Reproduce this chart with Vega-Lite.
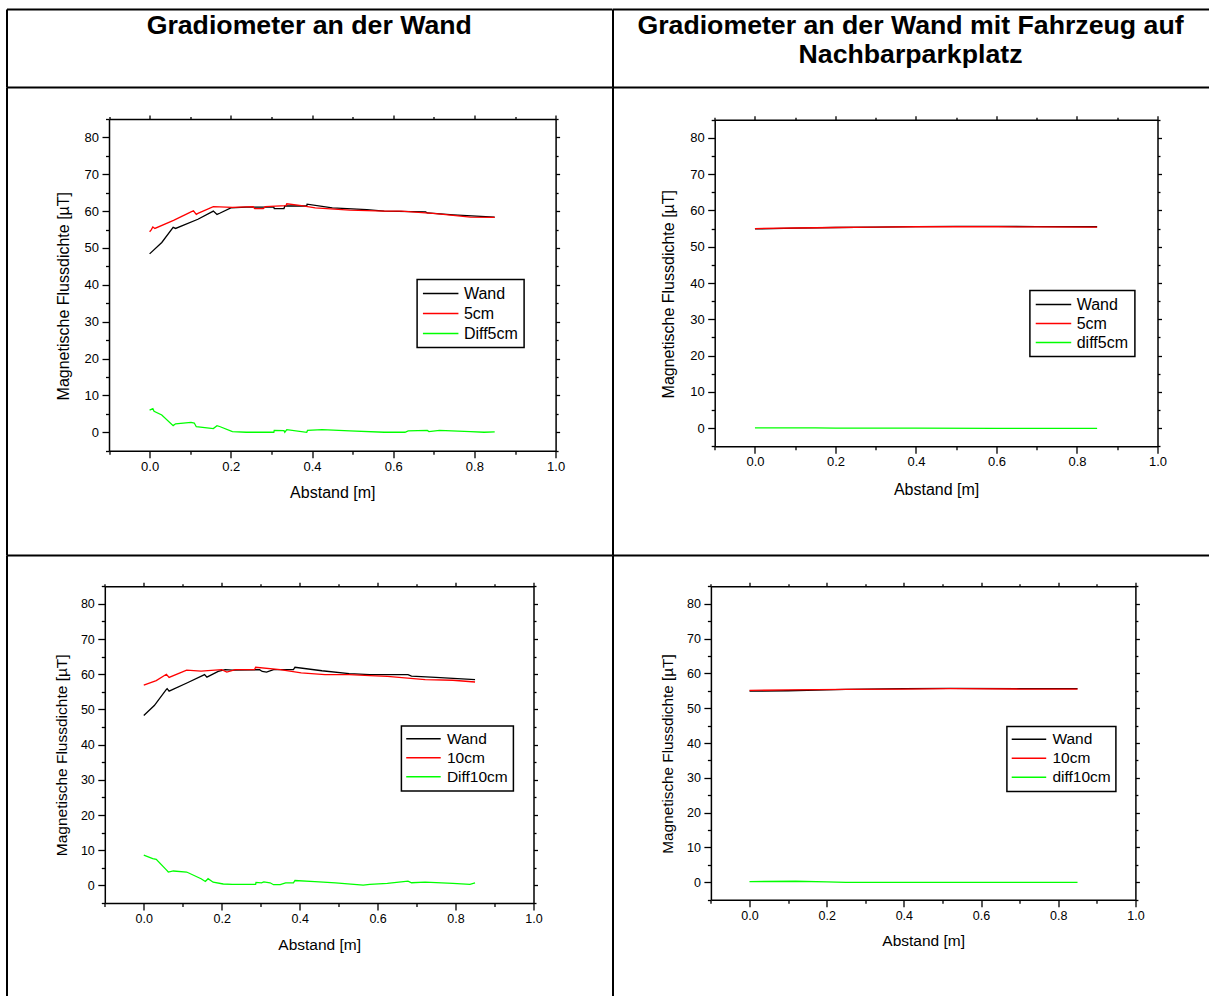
{
  "$schema": "https://vega.github.io/schema/vega-lite/v6.json",
  "background": "white",
  "padding": {"left": 6.5, "top": 9, "right": 0, "bottom": 0},
  "config": {"view": {"stroke": null}, "font": "Liberation Sans"},
  "datasets": {
    "tl": [
      {"s": "Wand", "x": 0, "y": 48.4}, {"s": "Wand", "x": 0.03, "y": 51.5}, {"s": "Wand", "x": 0.058, "y": 55.6}, {"s": "Wand", "x": 0.064, "y": 55.3},
      {"s": "Wand", "x": 0.119, "y": 57.8}, {"s": "Wand", "x": 0.157, "y": 60.0}, {"s": "Wand", "x": 0.166, "y": 59.1}, {"s": "Wand", "x": 0.174, "y": 59.5},
      {"s": "Wand", "x": 0.2, "y": 60.9}, {"s": "Wand", "x": 0.238, "y": 61.1}, {"s": "Wand", "x": 0.306, "y": 61.1}, {"s": "Wand", "x": 0.307, "y": 60.7},
      {"s": "Wand", "x": 0.331, "y": 60.7}, {"s": "Wand", "x": 0.333, "y": 61.4}, {"s": "Wand", "x": 0.387, "y": 61.4}, {"s": "Wand", "x": 0.388, "y": 61.9},
      {"s": "Wand", "x": 0.45, "y": 60.9}, {"s": "Wand", "x": 0.535, "y": 60.4}, {"s": "Wand", "x": 0.578, "y": 60.0}, {"s": "Wand", "x": 0.68, "y": 59.8},
      {"s": "Wand", "x": 0.684, "y": 59.5}, {"s": "Wand", "x": 0.748, "y": 59.0}, {"s": "Wand", "x": 0.85, "y": 58.4},
      {"s": "5cm", "x": 0, "y": 54.4}, {"s": "5cm", "x": 0.004, "y": 54.9}, {"s": "5cm", "x": 0.008, "y": 55.7}, {"s": "5cm", "x": 0.013, "y": 55.3},
      {"s": "5cm", "x": 0.059, "y": 57.5}, {"s": "5cm", "x": 0.102, "y": 59.8}, {"s": "5cm", "x": 0.108, "y": 60.1}, {"s": "5cm", "x": 0.115, "y": 59.1},
      {"s": "5cm", "x": 0.119, "y": 59.4}, {"s": "5cm", "x": 0.157, "y": 61.2}, {"s": "5cm", "x": 0.204, "y": 61.0}, {"s": "5cm", "x": 0.255, "y": 61.2},
      {"s": "5cm", "x": 0.259, "y": 60.7}, {"s": "5cm", "x": 0.28, "y": 60.7}, {"s": "5cm", "x": 0.285, "y": 61.2}, {"s": "5cm", "x": 0.336, "y": 61.5},
      {"s": "5cm", "x": 0.338, "y": 62.0}, {"s": "5cm", "x": 0.374, "y": 61.5}, {"s": "5cm", "x": 0.408, "y": 60.9}, {"s": "5cm", "x": 0.493, "y": 60.3},
      {"s": "5cm", "x": 0.578, "y": 60.0}, {"s": "5cm", "x": 0.62, "y": 60.0}, {"s": "5cm", "x": 0.705, "y": 59.3}, {"s": "5cm", "x": 0.79, "y": 58.4},
      {"s": "5cm", "x": 0.85, "y": 58.3},
      {"s": "Diff5cm", "x": 0, "y": 6.0}, {"s": "Diff5cm", "x": 0.008, "y": 6.4}, {"s": "Diff5cm", "x": 0.011, "y": 5.7}, {"s": "Diff5cm", "x": 0.03, "y": 4.7},
      {"s": "Diff5cm", "x": 0.058, "y": 1.8}, {"s": "Diff5cm", "x": 0.064, "y": 2.3}, {"s": "Diff5cm", "x": 0.102, "y": 2.7}, {"s": "Diff5cm", "x": 0.11, "y": 2.5},
      {"s": "Diff5cm", "x": 0.115, "y": 1.5}, {"s": "Diff5cm", "x": 0.157, "y": 1.0}, {"s": "Diff5cm", "x": 0.166, "y": 1.8}, {"s": "Diff5cm", "x": 0.174, "y": 1.5},
      {"s": "Diff5cm", "x": 0.204, "y": 0.2}, {"s": "Diff5cm", "x": 0.238, "y": 0.0}, {"s": "Diff5cm", "x": 0.306, "y": 0.0}, {"s": "Diff5cm", "x": 0.307, "y": 0.5},
      {"s": "Diff5cm", "x": 0.331, "y": 0.45}, {"s": "Diff5cm", "x": 0.333, "y": 0.0}, {"s": "Diff5cm", "x": 0.338, "y": 0.7}, {"s": "Diff5cm", "x": 0.387, "y": 0.0},
      {"s": "Diff5cm", "x": 0.389, "y": 0.5}, {"s": "Diff5cm", "x": 0.425, "y": 0.7}, {"s": "Diff5cm", "x": 0.493, "y": 0.4}, {"s": "Diff5cm", "x": 0.578, "y": 0.0},
      {"s": "Diff5cm", "x": 0.629, "y": 0.0}, {"s": "Diff5cm", "x": 0.637, "y": 0.4}, {"s": "Diff5cm", "x": 0.684, "y": 0.5}, {"s": "Diff5cm", "x": 0.688, "y": 0.2},
      {"s": "Diff5cm", "x": 0.714, "y": 0.5}, {"s": "Diff5cm", "x": 0.79, "y": 0.2}, {"s": "Diff5cm", "x": 0.824, "y": 0.0}, {"s": "Diff5cm", "x": 0.85, "y": 0.1}
    ],
    "tr": [
      {"s": "Wand", "x": 0, "y": 54.9}, {"s": "Wand", "x": 0.1, "y": 55.1}, {"s": "Wand", "x": 0.2, "y": 55.3}, {"s": "Wand", "x": 0.3, "y": 55.4},
      {"s": "Wand", "x": 0.4, "y": 55.55}, {"s": "Wand", "x": 0.5, "y": 55.6}, {"s": "Wand", "x": 0.6, "y": 55.6}, {"s": "Wand", "x": 0.7, "y": 55.55},
      {"s": "Wand", "x": 0.85, "y": 55.5},
      {"s": "5cm", "x": 0, "y": 55.0}, {"s": "5cm", "x": 0.1, "y": 55.15}, {"s": "5cm", "x": 0.2, "y": 55.3}, {"s": "5cm", "x": 0.3, "y": 55.4},
      {"s": "5cm", "x": 0.4, "y": 55.5}, {"s": "5cm", "x": 0.5, "y": 55.5}, {"s": "5cm", "x": 0.6, "y": 55.5}, {"s": "5cm", "x": 0.7, "y": 55.45},
      {"s": "5cm", "x": 0.85, "y": 55.4},
      {"s": "diff5cm", "x": 0, "y": 0.1}, {"s": "diff5cm", "x": 0.1, "y": 0.05}, {"s": "diff5cm", "x": 0.15, "y": 0.1}, {"s": "diff5cm", "x": 0.2, "y": 0.0},
      {"s": "diff5cm", "x": 0.4, "y": 0.0}, {"s": "diff5cm", "x": 0.6, "y": -0.05}, {"s": "diff5cm", "x": 0.85, "y": -0.05}
    ],
    "bl": [
      {"s": "Wand", "x": 0, "y": 48.3}, {"s": "Wand", "x": 0.027, "y": 51.1}, {"s": "Wand", "x": 0.058, "y": 55.7}, {"s": "Wand", "x": 0.06, "y": 55.9},
      {"s": "Wand", "x": 0.065, "y": 55.2}, {"s": "Wand", "x": 0.112, "y": 57.6}, {"s": "Wand", "x": 0.156, "y": 59.9}, {"s": "Wand", "x": 0.162, "y": 59.2},
      {"s": "Wand", "x": 0.191, "y": 60.8}, {"s": "Wand", "x": 0.209, "y": 61.3}, {"s": "Wand", "x": 0.227, "y": 61.2}, {"s": "Wand", "x": 0.297, "y": 61.3},
      {"s": "Wand", "x": 0.304, "y": 60.8}, {"s": "Wand", "x": 0.315, "y": 60.6}, {"s": "Wand", "x": 0.333, "y": 61.3}, {"s": "Wand", "x": 0.384, "y": 61.3},
      {"s": "Wand", "x": 0.388, "y": 62.0}, {"s": "Wand", "x": 0.457, "y": 61.0}, {"s": "Wand", "x": 0.527, "y": 60.2}, {"s": "Wand", "x": 0.58, "y": 59.9},
      {"s": "Wand", "x": 0.678, "y": 59.9}, {"s": "Wand", "x": 0.687, "y": 59.5}, {"s": "Wand", "x": 0.749, "y": 59.1}, {"s": "Wand", "x": 0.85, "y": 58.5},
      {"s": "10cm", "x": 0, "y": 56.9}, {"s": "10cm", "x": 0.032, "y": 58.2}, {"s": "10cm", "x": 0.058, "y": 60.0}, {"s": "10cm", "x": 0.065, "y": 59.1},
      {"s": "10cm", "x": 0.11, "y": 61.2}, {"s": "10cm", "x": 0.147, "y": 60.9}, {"s": "10cm", "x": 0.2, "y": 61.3}, {"s": "10cm", "x": 0.213, "y": 60.6},
      {"s": "10cm", "x": 0.235, "y": 61.3}, {"s": "10cm", "x": 0.284, "y": 61.3}, {"s": "10cm", "x": 0.287, "y": 62.0}, {"s": "10cm", "x": 0.35, "y": 61.3},
      {"s": "10cm", "x": 0.404, "y": 60.4}, {"s": "10cm", "x": 0.465, "y": 59.9}, {"s": "10cm", "x": 0.527, "y": 59.9}, {"s": "10cm", "x": 0.58, "y": 59.6},
      {"s": "10cm", "x": 0.625, "y": 59.4}, {"s": "10cm", "x": 0.722, "y": 58.5}, {"s": "10cm", "x": 0.793, "y": 58.3}, {"s": "10cm", "x": 0.85, "y": 57.8},
      {"s": "Diff10cm", "x": 0, "y": 8.6}, {"s": "Diff10cm", "x": 0.023, "y": 7.6}, {"s": "Diff10cm", "x": 0.032, "y": 7.4}, {"s": "Diff10cm", "x": 0.058, "y": 4.4},
      {"s": "Diff10cm", "x": 0.063, "y": 3.8}, {"s": "Diff10cm", "x": 0.076, "y": 4.1}, {"s": "Diff10cm", "x": 0.11, "y": 3.8}, {"s": "Diff10cm", "x": 0.147, "y": 1.9},
      {"s": "Diff10cm", "x": 0.158, "y": 1.1}, {"s": "Diff10cm", "x": 0.165, "y": 1.9}, {"s": "Diff10cm", "x": 0.178, "y": 0.9}, {"s": "Diff10cm", "x": 0.204, "y": 0.4},
      {"s": "Diff10cm", "x": 0.227, "y": 0.3}, {"s": "Diff10cm", "x": 0.287, "y": 0.3}, {"s": "Diff10cm", "x": 0.288, "y": 0.85}, {"s": "Diff10cm", "x": 0.302, "y": 0.7},
      {"s": "Diff10cm", "x": 0.308, "y": 1.0}, {"s": "Diff10cm", "x": 0.324, "y": 0.75}, {"s": "Diff10cm", "x": 0.333, "y": 0.2}, {"s": "Diff10cm", "x": 0.35, "y": 0.2},
      {"s": "Diff10cm", "x": 0.364, "y": 0.7}, {"s": "Diff10cm", "x": 0.384, "y": 0.75}, {"s": "Diff10cm", "x": 0.388, "y": 1.4}, {"s": "Diff10cm", "x": 0.439, "y": 1.1},
      {"s": "Diff10cm", "x": 0.492, "y": 0.7}, {"s": "Diff10cm", "x": 0.563, "y": 0.1}, {"s": "Diff10cm", "x": 0.58, "y": 0.3}, {"s": "Diff10cm", "x": 0.625, "y": 0.6},
      {"s": "Diff10cm", "x": 0.678, "y": 1.2}, {"s": "Diff10cm", "x": 0.687, "y": 0.75}, {"s": "Diff10cm", "x": 0.722, "y": 0.95}, {"s": "Diff10cm", "x": 0.793, "y": 0.6},
      {"s": "Diff10cm", "x": 0.837, "y": 0.3}, {"s": "Diff10cm", "x": 0.85, "y": 0.7}
    ],
    "br": [
      {"s": "Wand", "x": 0, "y": 54.9}, {"s": "Wand", "x": 0.1, "y": 55.0}, {"s": "Wand", "x": 0.25, "y": 55.4}, {"s": "Wand", "x": 0.4, "y": 55.6},
      {"s": "Wand", "x": 0.52, "y": 55.7}, {"s": "Wand", "x": 0.7, "y": 55.6}, {"s": "Wand", "x": 0.85, "y": 55.6},
      {"s": "10cm", "x": 0, "y": 55.1}, {"s": "10cm", "x": 0.1, "y": 55.25}, {"s": "10cm", "x": 0.25, "y": 55.4}, {"s": "10cm", "x": 0.4, "y": 55.5},
      {"s": "10cm", "x": 0.52, "y": 55.6}, {"s": "10cm", "x": 0.7, "y": 55.5}, {"s": "10cm", "x": 0.85, "y": 55.5},
      {"s": "diff10cm", "x": 0, "y": 0.2}, {"s": "diff10cm", "x": 0.12, "y": 0.3}, {"s": "diff10cm", "x": 0.2, "y": 0.1}, {"s": "diff10cm", "x": 0.25, "y": -0.05},
      {"s": "diff10cm", "x": 0.5, "y": 0.0}, {"s": "diff10cm", "x": 0.6, "y": -0.05}, {"s": "diff10cm", "x": 0.85, "y": 0.0}
    ]
  },
  "columns": 2,
  "spacing": 0,
  "bounds": "flush",
  "align": "each",
  "resolve": {"scale": {"color": "independent"}, "legend": {"color": "independent"}},
  "concat": [
    {
      "width": 605.5, "height": 78,
      "data": {"values": [{"t": "Gradiometer an der Wand"}]},
      "mark": {"type": "text", "font": "Liberation Sans", "fontSize": 26.7, "fontWeight": "bold", "baseline": "top", "lineBreak": "\n", "lineHeight": 29, "color": "black"},
      "encoding": {
        "text": {"field": "t"},
        "x": {"field": "t", "type": "nominal", "axis": {"orient": "top", "domainColor": "black", "domainWidth": 2, "ticks": false, "labels": false, "grid": false, "title": null}},
        "y": {"field": "t", "type": "nominal", "scale": {"padding": 0, "align": 0.055}, "axis": {"orient": "left", "domainColor": "black", "domainWidth": 2, "ticks": false, "labels": false, "grid": false, "title": null}}
      }
    },
    {
      "width": 596, "height": 78,
      "data": {"values": [{"t": "Gradiometer an der Wand mit Fahrzeug auf\nNachbarparkplatz"}]},
      "mark": {"type": "text", "font": "Liberation Sans", "fontSize": 26.7, "fontWeight": "bold", "baseline": "top", "lineBreak": "\n", "lineHeight": 29, "color": "black"},
      "encoding": {
        "text": {"field": "t"},
        "x": {"field": "t", "type": "nominal", "axis": {"orient": "top", "domainColor": "black", "domainWidth": 2, "ticks": false, "labels": false, "grid": false, "title": null}},
        "y": {"field": "t", "type": "nominal", "scale": {"padding": 0, "align": 0.055}, "axis": {"orient": "left", "domainColor": "black", "domainWidth": 2, "ticks": false, "labels": false, "grid": false, "title": null}}
      }
    },
    {
      "width": 605.5, "height": 468,
      "data": {"name": "tl"},
      "resolve": {"scale": {"x": "independent", "y": "independent"}, "axis": {"x": "independent", "y": "independent"}},
      "layer": [
        {
          "mark": {"type": "point", "opacity": 0, "size": 0},
          "encoding": {
            "x": {"field": "x", "type": "quantitative", "axis": {"orient": "top", "domainColor": "black", "domainWidth": 2, "ticks": false, "labels": false, "grid": false, "title": null}},
            "y": {"field": "y", "type": "quantitative", "axis": {"orient": "left", "domainColor": "black", "domainWidth": 2, "ticks": false, "labels": false, "grid": false, "title": null}}
          }
        },
        {
          "mark": {"type": "line", "strokeWidth": 1.3, "clip": false},
          "encoding": {
            "x": {"field": "x", "type": "quantitative",
              "scale": {"domain": [-0.1, 1.0], "range": [102.5, 549.1], "nice": false, "zero": false},
              "axis": {"orient": "bottom", "offset": -104.3, "values": [-0.1, 0, 0.1, 0.2, 0.3, 0.4, 0.5, 0.6, 0.7, 0.8, 0.9, 1.0],
                "labelExpr": "abs(round(datum.value * 10)) % 2 == 0 ? format(datum.value, '.1f') : ''",
                "tickSize": {"condition": {"test": "abs(round(datum.value * 10)) % 2 == 0", "value": 7}, "value": 3.5},
                "labelPadding": 2.5, "labelFont": "Liberation Sans", "labelFontSize": 13, "labelColor": "black", "labelFlush": false, "labelOverlap": false,
                "tickColor": "black", "tickWidth": 1.3, "domainColor": "black", "domainWidth": 1.5, "grid": false,
                "title": "Abstand [m]", "titleFont": "Liberation Sans", "titleFontSize": 16, "titleFontWeight": "normal", "titleColor": "black", "titleY": 42, "titleBaseline": "middle"}},
            "y": {"field": "y", "type": "quantitative",
              "scale": {"domain": [-5, 85], "range": [363.7, 32], "nice": false, "zero": false},
              "axis": {"orient": "left", "offset": -102.5, "values": [-5, 0, 5, 10, 15, 20, 25, 30, 35, 40, 45, 50, 55, 60, 65, 70, 75, 80, 85],
                "labelExpr": "datum.value % 10 == 0 && datum.value >= 0 && datum.value <= 80 ? format(datum.value, 'd') : ''",
                "tickSize": {"condition": {"test": "datum.value % 10 == 0", "value": 7}, "value": 3.5},
                "labelPadding": 3.5, "labelFont": "Liberation Sans", "labelFontSize": 13, "labelColor": "black", "labelFlush": false, "labelOverlap": false,
                "tickColor": "black", "tickWidth": 1.3, "domainColor": "black", "domainWidth": 1.5, "grid": false,
                "title": "Magnetische Flussdichte [µT]", "titleFont": "Liberation Sans", "titleFontSize": 16, "titleFontWeight": "normal", "titleColor": "black",
                "titleX": -46, "titleY": 208.7, "titleAngle": -90, "titleBaseline": "middle", "titleAlign": "center"}},
            "color": {"field": "s", "type": "nominal",
              "scale": {"domain": ["Wand", "5cm", "Diff5cm"], "range": ["#000000", "#ff0000", "#00ff00"]},
              "legend": {"orient": "none", "legendX": 410.6, "legendY": 192.5, "title": null, "direction": "vertical",
                "symbolType": "M-2.3,0H7.7", "symbolSize": 50.4, "symbolStrokeWidth": 1.5, "labelOffset": 24.8,
                "labelFont": "Liberation Sans", "labelFontSize": 16, "labelColor": "black", "labelLimit": 200,
                "padding": 6, "rowPadding": 4, "strokeColor": "black",
                "encode": {"legend": {"update": {"strokeWidth": {"value": 1.5}}}}}}
          }
        },
        {
          "mark": {"type": "point", "opacity": 0, "size": 0},
          "encoding": {
            "x": {"field": "x", "type": "quantitative",
              "scale": {"domain": [-0.1, 1.0], "range": [102.5, 549.1], "nice": false, "zero": false},
              "axis": {"orient": "top", "offset": -32, "values": [-0.1, 0, 0.1, 0.2, 0.3, 0.4, 0.5, 0.6, 0.7, 0.8, 0.9, 1.0], "labels": false, "title": null, "grid": false,
                "tickSize": {"condition": {"test": "abs(round(datum.value * 10)) % 2 == 0", "value": 4}, "value": 2.5},
                "tickColor": "black", "tickWidth": 1.3, "domainColor": "black", "domainWidth": 1.5}},
            "y": {"field": "y", "type": "quantitative",
              "scale": {"domain": [-5, 85], "range": [363.7, 32], "nice": false, "zero": false},
              "axis": {"orient": "right", "offset": -56.4, "values": [-5, 0, 5, 10, 15, 20, 25, 30, 35, 40, 45, 50, 55, 60, 65, 70, 75, 80, 85], "labels": false, "title": null, "grid": false,
                "tickSize": {"condition": {"test": "datum.value % 10 == 0", "value": 4}, "value": 2.5},
                "tickColor": "black", "tickWidth": 1.3, "domainColor": "black", "domainWidth": 1.5}}
          }
        }
      ]
    },
    {
      "width": 596, "height": 468,
      "data": {"name": "tr"},
      "resolve": {"scale": {"x": "independent", "y": "independent"}, "axis": {"x": "independent", "y": "independent"}},
      "layer": [
        {
          "mark": {"type": "point", "opacity": 0, "size": 0},
          "encoding": {
            "x": {"field": "x", "type": "quantitative", "axis": {"orient": "top", "domainColor": "black", "domainWidth": 2, "ticks": false, "labels": false, "grid": false, "title": null}},
            "y": {"field": "y", "type": "quantitative", "axis": {"orient": "left", "domainColor": "black", "domainWidth": 2, "ticks": false, "labels": false, "grid": false, "title": null}}
          }
        },
        {
          "mark": {"type": "line", "strokeWidth": 1.3, "clip": false},
          "encoding": {
            "x": {"field": "x", "type": "quantitative",
              "scale": {"domain": [-0.1, 1.0], "range": [102.2, 545], "nice": false, "zero": false},
              "axis": {"orient": "bottom", "offset": -108.7, "values": [-0.1, 0, 0.1, 0.2, 0.3, 0.4, 0.5, 0.6, 0.7, 0.8, 0.9, 1.0],
                "labelExpr": "abs(round(datum.value * 10)) % 2 == 0 ? format(datum.value, '.1f') : ''",
                "tickSize": {"condition": {"test": "abs(round(datum.value * 10)) % 2 == 0", "value": 7}, "value": 3.5},
                "labelPadding": 2.5, "labelFont": "Liberation Sans", "labelFontSize": 13, "labelColor": "black", "labelFlush": false, "labelOverlap": false,
                "tickColor": "black", "tickWidth": 1.3, "domainColor": "black", "domainWidth": 1.5, "grid": false,
                "title": "Abstand [m]", "titleFont": "Liberation Sans", "titleFontSize": 16, "titleFontWeight": "normal", "titleColor": "black", "titleY": 43, "titleBaseline": "middle"}},
            "y": {"field": "y", "type": "quantitative",
              "scale": {"domain": [-5, 85], "range": [359.3, 32.7], "nice": false, "zero": false},
              "axis": {"orient": "left", "offset": -102.2, "values": [-5, 0, 5, 10, 15, 20, 25, 30, 35, 40, 45, 50, 55, 60, 65, 70, 75, 80, 85],
                "labelExpr": "datum.value % 10 == 0 && datum.value >= 0 && datum.value <= 80 ? format(datum.value, 'd') : ''",
                "tickSize": {"condition": {"test": "datum.value % 10 == 0", "value": 7}, "value": 3.5},
                "labelPadding": 3.5, "labelFont": "Liberation Sans", "labelFontSize": 13, "labelColor": "black", "labelFlush": false, "labelOverlap": false,
                "tickColor": "black", "tickWidth": 1.3, "domainColor": "black", "domainWidth": 1.5, "grid": false,
                "title": "Magnetische Flussdichte [µT]", "titleFont": "Liberation Sans", "titleFontSize": 16, "titleFontWeight": "normal", "titleColor": "black",
                "titleX": -46, "titleY": 206.7, "titleAngle": -90, "titleBaseline": "middle", "titleAlign": "center"}},
            "color": {"field": "s", "type": "nominal",
              "scale": {"domain": ["Wand", "5cm", "diff5cm"], "range": ["#000000", "#ff0000", "#00ff00"]},
              "legend": {"orient": "none", "legendX": 417.4, "legendY": 203.5, "title": null, "direction": "vertical",
                "symbolType": "M-2.3,0H7.7", "symbolSize": 50.4, "symbolStrokeWidth": 1.5, "labelOffset": 24.8,
                "labelFont": "Liberation Sans", "labelFontSize": 16, "labelColor": "black", "labelLimit": 200,
                "padding": 6, "rowPadding": 3, "strokeColor": "black",
                "encode": {"legend": {"update": {"strokeWidth": {"value": 1.5}}}}}}
          }
        },
        {
          "mark": {"type": "point", "opacity": 0, "size": 0},
          "encoding": {
            "x": {"field": "x", "type": "quantitative",
              "scale": {"domain": [-0.1, 1.0], "range": [102.2, 545], "nice": false, "zero": false},
              "axis": {"orient": "top", "offset": -32.7, "values": [-0.1, 0, 0.1, 0.2, 0.3, 0.4, 0.5, 0.6, 0.7, 0.8, 0.9, 1.0], "labels": false, "title": null, "grid": false,
                "tickSize": {"condition": {"test": "abs(round(datum.value * 10)) % 2 == 0", "value": 4}, "value": 2.5},
                "tickColor": "black", "tickWidth": 1.3, "domainColor": "black", "domainWidth": 1.5}},
            "y": {"field": "y", "type": "quantitative",
              "scale": {"domain": [-5, 85], "range": [359.3, 32.7], "nice": false, "zero": false},
              "axis": {"orient": "right", "offset": -51, "values": [-5, 0, 5, 10, 15, 20, 25, 30, 35, 40, 45, 50, 55, 60, 65, 70, 75, 80, 85], "labels": false, "title": null, "grid": false,
                "tickSize": {"condition": {"test": "datum.value % 10 == 0", "value": 4}, "value": 2.5},
                "tickColor": "black", "tickWidth": 1.3, "domainColor": "black", "domainWidth": 1.5}}
          }
        }
      ]
    },
    {
      "width": 605.5, "height": 441,
      "data": {"name": "bl"},
      "resolve": {"scale": {"x": "independent", "y": "independent"}, "axis": {"x": "independent", "y": "independent"}},
      "layer": [
        {
          "mark": {"type": "point", "opacity": 0, "size": 0},
          "encoding": {
            "x": {"field": "x", "type": "quantitative", "axis": {"orient": "top", "domainColor": "black", "domainWidth": 2, "ticks": false, "labels": false, "grid": false, "title": null}},
            "y": {"field": "y", "type": "quantitative", "axis": {"orient": "left", "domainColor": "black", "domainWidth": 2, "ticks": false, "labels": false, "grid": false, "title": null}}
          }
        },
        {
          "mark": {"type": "line", "strokeWidth": 1.3, "clip": false},
          "encoding": {
            "x": {"field": "x", "type": "quantitative",
              "scale": {"domain": [-0.1, 1.0], "range": [98.3, 527], "nice": false, "zero": false},
              "axis": {"orient": "bottom", "offset": -93, "values": [-0.1, 0, 0.1, 0.2, 0.3, 0.4, 0.5, 0.6, 0.7, 0.8, 0.9, 1.0],
                "labelExpr": "abs(round(datum.value * 10)) % 2 == 0 ? format(datum.value, '.1f') : ''",
                "tickSize": {"condition": {"test": "abs(round(datum.value * 10)) % 2 == 0", "value": 7}, "value": 3.5},
                "labelPadding": 2.5, "labelFont": "Liberation Sans", "labelFontSize": 12.5, "labelColor": "black", "labelFlush": false, "labelOverlap": false,
                "tickColor": "black", "tickWidth": 1.3, "domainColor": "black", "domainWidth": 1.5, "grid": false,
                "title": "Abstand [m]", "titleFont": "Liberation Sans", "titleFontSize": 15.5, "titleFontWeight": "normal", "titleColor": "black", "titleY": 41.7, "titleBaseline": "middle"}},
            "y": {"field": "y", "type": "quantitative",
              "scale": {"domain": [-5, 85], "range": [348, 31.3], "nice": false, "zero": false},
              "axis": {"orient": "left", "offset": -98.3, "values": [-5, 0, 5, 10, 15, 20, 25, 30, 35, 40, 45, 50, 55, 60, 65, 70, 75, 80, 85],
                "labelExpr": "datum.value % 10 == 0 && datum.value >= 0 && datum.value <= 80 ? format(datum.value, 'd') : ''",
                "tickSize": {"condition": {"test": "datum.value % 10 == 0", "value": 7}, "value": 3.5},
                "labelPadding": 3.5, "labelFont": "Liberation Sans", "labelFontSize": 12.5, "labelColor": "black", "labelFlush": false, "labelOverlap": false,
                "tickColor": "black", "tickWidth": 1.3, "domainColor": "black", "domainWidth": 1.5, "grid": false,
                "title": "Magnetische Flussdichte [µT]", "titleFont": "Liberation Sans", "titleFontSize": 15.5, "titleFontWeight": "normal", "titleColor": "black",
                "titleX": -43.6, "titleY": 199.8, "titleAngle": -90, "titleBaseline": "middle", "titleAlign": "center"}},
            "color": {"field": "s", "type": "nominal",
              "scale": {"domain": ["Wand", "10cm", "Diff10cm"], "range": ["#000000", "#ff0000", "#00ff00"]},
              "legend": {"orient": "none", "legendX": 394.9, "legendY": 171, "title": null, "direction": "vertical",
                "symbolType": "M-2.3,0H7.7", "symbolSize": 47.6, "symbolStrokeWidth": 1.5, "labelOffset": 25,
                "labelFont": "Liberation Sans", "labelFontSize": 15.5, "labelColor": "black", "labelLimit": 200,
                "padding": 5, "rowPadding": 2, "strokeColor": "black",
                "encode": {"legend": {"update": {"strokeWidth": {"value": 1.5}}}}}}
          }
        },
        {
          "mark": {"type": "point", "opacity": 0, "size": 0},
          "encoding": {
            "x": {"field": "x", "type": "quantitative",
              "scale": {"domain": [-0.1, 1.0], "range": [98.3, 527], "nice": false, "zero": false},
              "axis": {"orient": "top", "offset": -31.3, "values": [-0.1, 0, 0.1, 0.2, 0.3, 0.4, 0.5, 0.6, 0.7, 0.8, 0.9, 1.0], "labels": false, "title": null, "grid": false,
                "tickSize": {"condition": {"test": "abs(round(datum.value * 10)) % 2 == 0", "value": 4}, "value": 2.5},
                "tickColor": "black", "tickWidth": 1.3, "domainColor": "black", "domainWidth": 1.5}},
            "y": {"field": "y", "type": "quantitative",
              "scale": {"domain": [-5, 85], "range": [348, 31.3], "nice": false, "zero": false},
              "axis": {"orient": "right", "offset": -78.5, "values": [-5, 0, 5, 10, 15, 20, 25, 30, 35, 40, 45, 50, 55, 60, 65, 70, 75, 80, 85], "labels": false, "title": null, "grid": false,
                "tickSize": {"condition": {"test": "datum.value % 10 == 0", "value": 4}, "value": 2.5},
                "tickColor": "black", "tickWidth": 1.3, "domainColor": "black", "domainWidth": 1.5}}
          }
        }
      ]
    },
    {
      "width": 596, "height": 441,
      "data": {"name": "br"},
      "resolve": {"scale": {"x": "independent", "y": "independent"}, "axis": {"x": "independent", "y": "independent"}},
      "layer": [
        {
          "mark": {"type": "point", "opacity": 0, "size": 0},
          "encoding": {
            "x": {"field": "x", "type": "quantitative", "axis": {"orient": "top", "domainColor": "black", "domainWidth": 2, "ticks": false, "labels": false, "grid": false, "title": null}},
            "y": {"field": "y", "type": "quantitative", "axis": {"orient": "left", "domainColor": "black", "domainWidth": 2, "ticks": false, "labels": false, "grid": false, "title": null}}
          }
        },
        {
          "mark": {"type": "line", "strokeWidth": 1.3, "clip": false},
          "encoding": {
            "x": {"field": "x", "type": "quantitative",
              "scale": {"domain": [-0.1, 1.0], "range": [98.4, 522.9], "nice": false, "zero": false},
              "axis": {"orient": "bottom", "offset": -96.3, "values": [-0.1, 0, 0.1, 0.2, 0.3, 0.4, 0.5, 0.6, 0.7, 0.8, 0.9, 1.0],
                "labelExpr": "abs(round(datum.value * 10)) % 2 == 0 ? format(datum.value, '.1f') : ''",
                "tickSize": {"condition": {"test": "abs(round(datum.value * 10)) % 2 == 0", "value": 7}, "value": 3.5},
                "labelPadding": 2.5, "labelFont": "Liberation Sans", "labelFontSize": 12.5, "labelColor": "black", "labelFlush": false, "labelOverlap": false,
                "tickColor": "black", "tickWidth": 1.3, "domainColor": "black", "domainWidth": 1.5, "grid": false,
                "title": "Abstand [m]", "titleFont": "Liberation Sans", "titleFontSize": 15.5, "titleFontWeight": "normal", "titleColor": "black", "titleY": 41, "titleBaseline": "middle"}},
            "y": {"field": "y", "type": "quantitative",
              "scale": {"domain": [-5, 85], "range": [344.7, 31.3], "nice": false, "zero": false},
              "axis": {"orient": "left", "offset": -98.4, "values": [-5, 0, 5, 10, 15, 20, 25, 30, 35, 40, 45, 50, 55, 60, 65, 70, 75, 80, 85],
                "labelExpr": "datum.value % 10 == 0 && datum.value >= 0 && datum.value <= 80 ? format(datum.value, 'd') : ''",
                "tickSize": {"condition": {"test": "datum.value % 10 == 0", "value": 7}, "value": 3.5},
                "labelPadding": 3.5, "labelFont": "Liberation Sans", "labelFontSize": 12.5, "labelColor": "black", "labelFlush": false, "labelOverlap": false,
                "tickColor": "black", "tickWidth": 1.3, "domainColor": "black", "domainWidth": 1.5, "grid": false,
                "title": "Magnetische Flussdichte [µT]", "titleFont": "Liberation Sans", "titleFontSize": 15.3, "titleFontWeight": "normal", "titleColor": "black",
                "titleX": -43.8, "titleY": 198.5, "titleAngle": -90, "titleBaseline": "middle", "titleAlign": "center"}},
            "color": {"field": "s", "type": "nominal",
              "scale": {"domain": ["Wand", "10cm", "diff10cm"], "range": ["#000000", "#ff0000", "#00ff00"]},
              "legend": {"orient": "none", "legendX": 394.4, "legendY": 171.5, "title": null, "direction": "vertical",
                "symbolType": "M-2.3,0H7.7", "symbolSize": 47.6, "symbolStrokeWidth": 1.5, "labelOffset": 25,
                "labelFont": "Liberation Sans", "labelFontSize": 15.5, "labelColor": "black", "labelLimit": 200,
                "padding": 5, "rowPadding": 2, "strokeColor": "black",
                "encode": {"legend": {"update": {"strokeWidth": {"value": 1.5}}}}}}
          }
        },
        {
          "mark": {"type": "point", "opacity": 0, "size": 0},
          "encoding": {
            "x": {"field": "x", "type": "quantitative",
              "scale": {"domain": [-0.1, 1.0], "range": [98.4, 522.9], "nice": false, "zero": false},
              "axis": {"orient": "top", "offset": -31.3, "values": [-0.1, 0, 0.1, 0.2, 0.3, 0.4, 0.5, 0.6, 0.7, 0.8, 0.9, 1.0], "labels": false, "title": null, "grid": false,
                "tickSize": {"condition": {"test": "abs(round(datum.value * 10)) % 2 == 0", "value": 4}, "value": 2.5},
                "tickColor": "black", "tickWidth": 1.3, "domainColor": "black", "domainWidth": 1.5}},
            "y": {"field": "y", "type": "quantitative",
              "scale": {"domain": [-5, 85], "range": [344.7, 31.3], "nice": false, "zero": false},
              "axis": {"orient": "right", "offset": -73.1, "values": [-5, 0, 5, 10, 15, 20, 25, 30, 35, 40, 45, 50, 55, 60, 65, 70, 75, 80, 85], "labels": false, "title": null, "grid": false,
                "tickSize": {"condition": {"test": "datum.value % 10 == 0", "value": 4}, "value": 2.5},
                "tickColor": "black", "tickWidth": 1.3, "domainColor": "black", "domainWidth": 1.5}}
          }
        }
      ]
    }
  ]
}
